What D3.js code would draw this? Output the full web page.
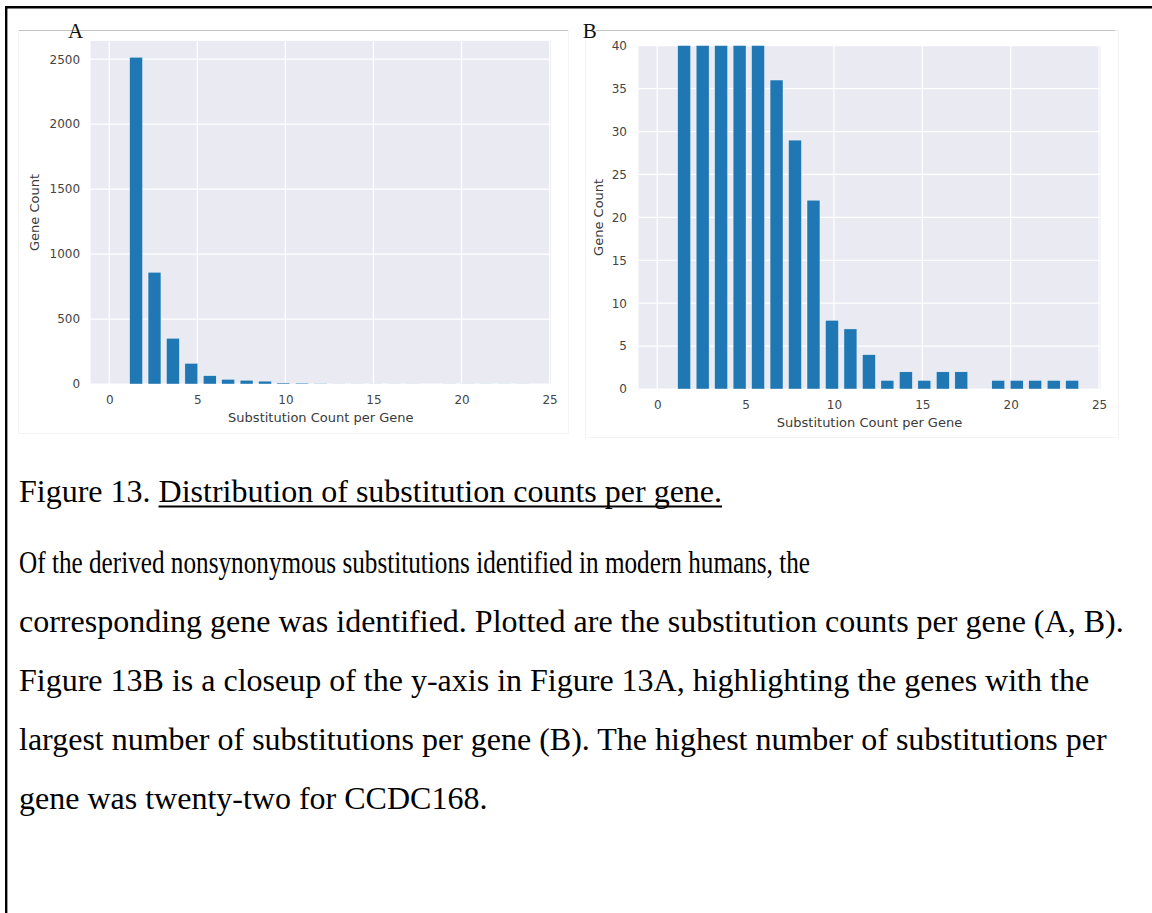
<!DOCTYPE html>
<html>
<head>
<meta charset="utf-8">
<script src="https://cdn.jsdelivr.net/npm/d3@7"></script>
<style>
  body { margin: 0; background: #fff; }
  svg { display: block; }
</style>
</head>
<body>
<svg id="fig" width="1152" height="913"></svg>
<script>
// Substitutions per gene, binned into 22 equal-width bins from 1 to 24
const substitutionRange = [1, 24];
const binCount = 22;
const geneCounts = [2515, 860, 352, 159, 64, 36, 29, 22, 8, 7, 4, 1, 2, 1, 2, 2, 0, 1, 1, 1, 1, 1];

const xTicks = [0, 5, 10, 15, 20, 25];
const yTicksA = [0, 500, 1000, 1500, 2000, 2500];
const yTicksB = [0, 5, 10, 15, 20, 25, 30, 35, 40];

const panelLetters = ["A", "B"];
const xLabel = "Substitution Count per Gene";
const yLabel = "Gene Count";

const captionLead = "Figure 13. ";
const captionTitle = "Distribution of substitution counts per gene.";
const captionLines = [
  "Of the derived nonsynonymous substitutions identified in modern humans, the",
  "corresponding gene was identified. Plotted are the substitution counts per gene (A, B).",
  "Figure 13B is a closeup of the y-axis in Figure 13A, highlighting the genes with the",
  "largest number of substitutions per gene (B). The highest number of substitutions per",
  "gene was twenty-two for CCDC168."
];

// ---- derived bins ----
const binWidth = (substitutionRange[1] - substitutionRange[0]) / binCount;
const bins = geneCounts.map((count, i) => ({
  x0: substitutionRange[0] + i * binWidth,
  x1: substitutionRange[0] + (i + 1) * binWidth,
  count
}));
const relWidth = 0.7;

const svg = d3.select("#fig");
svg.append("rect").attr("width", 1152).attr("height", 913).attr("fill", "#fff");

// outer frame (top and left rules)
svg.append("line").attr("x1", 5).attr("x2", 1152).attr("y1", 7.2).attr("y2", 7.2)
  .attr("stroke", "#000").attr("stroke-width", 2.4);
svg.append("line").attr("x1", 6.2).attr("x2", 6.2).attr("y1", 6).attr("y2", 913)
  .attr("stroke", "#000").attr("stroke-width", 2.4);

const defs = svg.append("defs");

function drawPanel(cfg, idx) {
  const g = svg.append("g");

  // faint image box
  g.append("rect")
    .attr("x", cfg.box[0]).attr("y", cfg.box[1])
    .attr("width", cfg.box[2] - cfg.box[0]).attr("height", cfg.box[3] - cfg.box[1])
    .attr("fill", "#fff").attr("stroke", "#f3f3f3").attr("stroke-width", 1);

  // top rule with panel letter
  g.append("line")
    .attr("x1", cfg.rule[0]).attr("x2", cfg.rule[1])
    .attr("y1", 30.5).attr("y2", 30.5)
    .attr("stroke", "#c4c4c4").attr("stroke-width", 1.2);
  g.append("text")
    .attr("x", cfg.letterX).attr("y", 38.3)
    .attr("text-anchor", "middle")
    .attr("font-family", "'Liberation Serif', 'Times New Roman', serif")
    .attr("font-size", 21)
    .attr("fill", "#111")
    .text(panelLetters[idx]);

  const x = d3.scaleLinear().domain([-1.06, 25.08]).range([cfg.left, cfg.right]);
  const y = d3.scaleLinear().domain(cfg.yDomain).range([cfg.bottom, cfg.top]);

  // plot background
  g.append("rect")
    .attr("x", cfg.left).attr("y", cfg.top)
    .attr("width", cfg.right - cfg.left).attr("height", cfg.bottom - cfg.top)
    .attr("fill", "#eaeaf2");

  // grid
  g.append("g").selectAll("line").data(xTicks).join("line")
    .attr("x1", d => x(d)).attr("x2", d => x(d))
    .attr("y1", cfg.top).attr("y2", cfg.bottom)
    .attr("stroke", "#fff").attr("stroke-width", 1.2);
  g.append("g").selectAll("line").data(cfg.yTicks).join("line")
    .attr("x1", cfg.left).attr("x2", cfg.right)
    .attr("y1", d => y(d)).attr("y2", d => y(d))
    .attr("stroke", "#fff").attr("stroke-width", 1.2);

  // bars, clipped to the plotting area
  const clipId = "clip" + idx;
  defs.append("clipPath").attr("id", clipId).append("rect")
    .attr("x", cfg.left).attr("y", cfg.top)
    .attr("width", cfg.right - cfg.left).attr("height", cfg.bottom - cfg.top);

  g.append("g").attr("clip-path", `url(#${clipId})`)
    .selectAll("rect").data(bins.filter(b => b.count > 0)).join("rect")
    .attr("x", d => x((d.x0 + d.x1) / 2 - relWidth * binWidth / 2))
    .attr("width", d => x(relWidth * binWidth) - x(0))
    .attr("y", d => y(d.count))
    .attr("height", d => y(0) - y(d.count))
    .attr("fill", "#1f77b4")
    .attr("stroke", "#fff").attr("stroke-width", 0.4);

  // axes
  const tickFont = "'DejaVu Sans', Verdana, sans-serif";
  const xAxis = g.append("g")
    .attr("transform", `translate(0,${cfg.bottom})`)
    .call(d3.axisBottom(x).tickValues(xTicks).tickSize(0).tickPadding(cfg.xPad).tickFormat(d3.format("d")));
  const yAxis = g.append("g")
    .attr("transform", `translate(${cfg.left},0)`)
    .call(d3.axisLeft(y).tickValues(cfg.yTicks).tickSize(0).tickPadding(cfg.yPad).tickFormat(d3.format("d")));
  [xAxis, yAxis].forEach(a => {
    a.select(".domain").remove();
    a.selectAll("text")
      .attr("font-family", tickFont)
      .attr("font-size", 12)
      .attr("fill", "#444");
  });

  // axis titles
  g.append("text")
    .attr("x", (cfg.left + cfg.right) / 2).attr("y", cfg.xLabelY)
    .attr("text-anchor", "middle")
    .attr("font-family", tickFont).attr("font-size", 13).attr("fill", "#3a3a3a")
    .text(xLabel);
  g.append("text")
    .attr("transform", `translate(${cfg.yLabelX},${(cfg.top + cfg.bottom) / 2}) rotate(-90)`)
    .attr("text-anchor", "middle")
    .attr("font-family", tickFont).attr("font-size", 13).attr("fill", "#3a3a3a")
    .text(yLabel);
}

drawPanel({
  box: [18.5, 30.5, 568.5, 433.5],
  rule: [19, 568],
  letterX: 75.5,
  left: 90.6, right: 551, top: 40.9, bottom: 384,
  yDomain: [0, geneCounts[0] * 1.05],
  yTicks: yTicksA,
  xPad: 11.2, yPad: 10.5,
  xLabelY: 422, yLabelX: 39
}, 0);

drawPanel({
  box: [585.5, 30.5, 1118.5, 437.5],
  rule: [596, 1115],
  letterX: 589.7,
  left: 638.5, right: 1100.5, top: 45.7, bottom: 389,
  yDomain: [0, 40],
  yTicks: yTicksB,
  xPad: 11.9, yPad: 11.5,
  xLabelY: 427, yLabelX: 602.7
}, 1);

// ---- caption ----
const serif = "'Liberation Serif', 'Times New Roman', serif";
const cap = svg.append("g").attr("font-family", serif).attr("font-size", 32).attr("fill", "#000");

const titleText = cap.append("text").attr("x", 19).attr("y", 502);
titleText.append("tspan").text(captionLead);
const titleSpan = titleText.append("tspan").text(captionTitle);

// underline beneath the caption title
const leadWidth = titleText.node().getSubStringLength(0, captionLead.length);
const titleWidth = titleSpan.node().getComputedTextLength();
cap.append("line")
  .attr("x1", 19 + leadWidth).attr("x2", 19 + leadWidth + titleWidth)
  .attr("y1", 506.5).attr("y2", 506.5)
  .attr("stroke", "#000").attr("stroke-width", 1.8);

// body lines; the opening line is set tighter than the rest
const bodyLines = cap.selectAll("text.body").data(captionLines).join("text")
  .attr("class", "body")
  .attr("x", 19)
  .attr("y", (d, i) => 573 + i * 59)
  .text(d => d);
bodyLines.filter((d, i) => i === 0)
  .attr("textLength", 791)
  .attr("lengthAdjust", "spacingAndGlyphs");
</script>
</body>
</html>
